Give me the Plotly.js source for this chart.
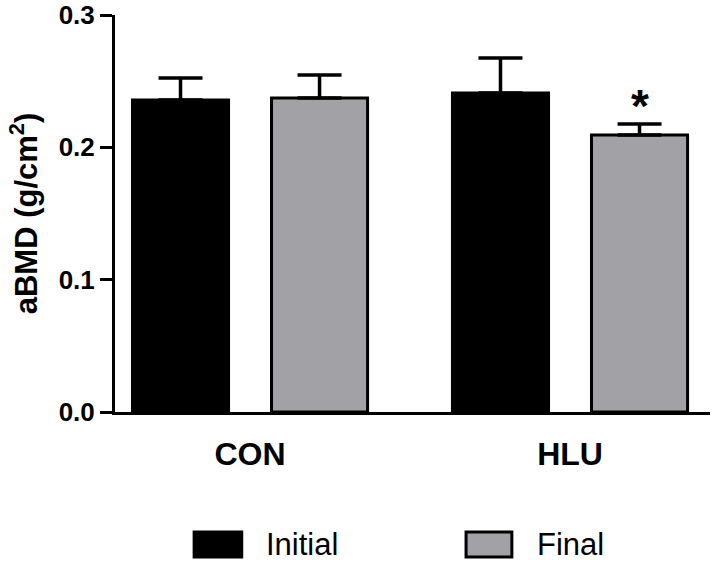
<!DOCTYPE html>
<html>
<head>
<meta charset="utf-8">
<script src="https://cdn.plot.ly/plotly-3.0.1.min.js"></script>
<style>
  html, body { margin: 0; padding: 0; background: #fff; }
  #chart { width: 714px; height: 562px; }
</style>
</head>
<body>
<div id="chart"></div>
<script>
// valores (aBMD, g/cm2)
const groups = ['CON', 'HLU'];
const seriesNames = ['Initial', 'Final'];
const initialMean = [0.2358, 0.2411];
const initialSem = [0.0166, 0.0264];
const finalMean = [0.2373, 0.2093];
const finalSem = [0.0174, 0.0083];
const zeros = [0, 0];

const fontFam = '"Liberation Sans", Arial, sans-serif';
const grey = '#a2a1a6';

const traceInitial = {
    type: 'bar',
    name: seriesNames[0],
    x: groups,
    y: initialMean,
    marker: {color: '#000', line: {color: '#000', width: 3}},
    error_y: {type: 'data', array: initialSem, arrayminus: zeros, symmetric: false,
              color: '#000', thickness: 3.5, width: 22},
    hoverinfo: 'x+y'
};

const traceFinal = {
    type: 'bar',
    name: seriesNames[1],
    x: groups,
    y: finalMean,
    marker: {color: grey, line: {color: '#000', width: 3}},
    error_y: {type: 'data', array: finalSem, arrayminus: zeros, symmetric: false,
              color: '#000', thickness: 3.5, width: 22},
    hoverinfo: 'x+y'
};

// leyenda dibujada a mano (cuadros grandes como en el original)
const legendShapes = [
    {type: 'rect', xref: 'paper', yref: 'paper', x0: 0.133, x1: 0.213, y0: -0.365, y1: -0.302,
     fillcolor: '#000', line: {color: '#000', width: 3}},
    {type: 'rect', xref: 'paper', yref: 'paper', x0: 0.590, x1: 0.667, y0: -0.365, y1: -0.302,
     fillcolor: grey, line: {color: '#000', width: 3}}
];

const annotations = [
    {xref: 'paper', yref: 'paper', x: 0.250, y: -0.335, xanchor: 'left', yanchor: 'middle',
     text: seriesNames[0], showarrow: false, font: {family: fontFam, size: 31, color: '#000'}},
    {xref: 'paper', yref: 'paper', x: 0.706, y: -0.335, xanchor: 'left', yanchor: 'middle',
     text: seriesNames[1], showarrow: false, font: {family: fontFam, size: 31, color: '#000'}},
    // asterisco sobre HLU Final
    {x: 1, y: finalMean[1] + finalSem[1], xshift: 69.5, yanchor: 'bottom', yshift: -10,
     text: '<b>*</b>', showarrow: false, font: {family: fontFam, size: 46, color: '#000'}}
];

const layout = {
    width: 714,
    height: 562,
    margin: {l: 115, r: 4, t: 15, b: 150},
    paper_bgcolor: '#fff',
    plot_bgcolor: '#fff',
    showlegend: false,
    barmode: 'group',
    bargap: 0.131,
    bargroupgap: 0.309,
    font: {family: fontFam, color: '#000'},
    xaxis: {
        type: 'category',
        range: [-0.422, 1.4375],
        showline: true, linecolor: '#000', linewidth: 3,
        ticks: '', showgrid: false, zeroline: false,
        tickfont: {family: fontFam, size: 32, color: '#000', weight: 'bold'},
        ticklabelstandoff: 12
    },
    yaxis: {
        range: [0, 0.3],
        tickvals: [0, 0.1, 0.2, 0.3],
        ticktext: ['0.0', '0.1', '0.2', '0.3'],
        showline: true, linecolor: '#000', linewidth: 3,
        ticks: 'outside', ticklen: 12, tickwidth: 3, tickcolor: '#000',
        showgrid: false, zeroline: false,
        tickfont: {family: fontFam, size: 26, color: '#000', weight: 'bold'},
        title: {text: '<b>aBMD (g/cm<sup>2</sup>)</b>',
                font: {family: fontFam, size: 31, color: '#000'}, standoff: 12}
    },
    shapes: legendShapes,
    annotations: annotations
};

Plotly.newPlot('chart', [traceInitial, traceFinal], layout, {displayModeBar: false, staticPlot: true});
</script>
</body>
</html>
